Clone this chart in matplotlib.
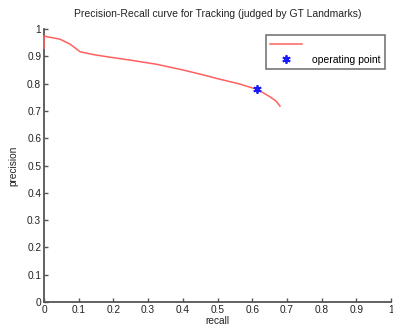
import matplotlib
matplotlib.use("Agg")
import matplotlib.pyplot as plt

recall = [0.0, 0.0, 0.009, 0.046, 0.075, 0.104, 0.14, 0.18, 0.25, 0.325, 0.401, 0.45, 0.498, 0.56, 0.615, 0.651, 0.668, 0.68]
precision = [0.93, 0.975, 0.972, 0.963, 0.945, 0.917, 0.907, 0.899, 0.886, 0.871, 0.850, 0.835, 0.819, 0.800, 0.779, 0.752, 0.737, 0.718]
op_recall = [0.615]
op_precision = [0.779]
xticks = [0, 0.1, 0.2, 0.3, 0.4, 0.5, 0.6, 0.7, 0.8, 0.9, 1]
yticks = [0, 0.1, 0.2, 0.3, 0.4, 0.5, 0.6, 0.7, 0.8, 0.9, 1]

plt.rcParams['font.family'] = ['Liberation Sans', 'DejaVu Sans']
fig = plt.figure(figsize=(3.93, 3.27), dpi=100)
ax = fig.add_axes([0.112, 0.0765, 0.883, 0.8345])
ax.plot(recall, precision, color='#ff6060', lw=1.1, label=' ', zorder=5, clip_on=False)
ax.plot(op_recall, op_precision, ls='none', marker=(6, 2, 0), color='#1a1aff', mew=1.3, ms=6,
        label='operating point', zorder=6)
ax.set_xlim(0, 1)
ax.set_ylim(0, 1)
ax.set_xticks(xticks)
ax.set_yticks(yticks)
ax.set_xticklabels(['0', '0.1', '0.2', '0.3', '0.4', '0.5', '0.6', '0.7', '0.8', '0.9', '1'])
ax.set_yticklabels(['0', '0.1', '0.2', '0.3', '0.4', '0.5', '0.6', '0.7', '0.8', '0.9', '1'])
for s in ['top', 'right']:
    ax.spines[s].set_visible(False)
for s in ['left', 'bottom']:
    ax.spines[s].set_color('#555555')
    ax.spines[s].set_linewidth(1.3)
    ax.spines[s].set_zorder(2)
ax.tick_params(direction='in', length=3, width=1, colors='#555555', labelsize=7.3, labelcolor='#222222', pad=2)
ax.set_title('Precision-Recall curve for Tracking (judged by GT Landmarks)', fontsize=7.5, color='#222222', pad=9)
ax.set_xlabel('recall', fontsize=7.3, color='#222222', labelpad=1)
ax.set_ylabel('precision', fontsize=7.3, color='#222222', labelpad=6)
leg = ax.legend(loc='upper right', bbox_to_anchor=(0.998, 0.996), fontsize=7.5, frameon=True, fancybox=False,
                edgecolor='#555555', borderpad=0.45, handlelength=3.0, labelspacing=0.45, handletextpad=1.0)
leg.get_frame().set_linewidth(1.2)
fig.savefig('out.png', dpi=100)
